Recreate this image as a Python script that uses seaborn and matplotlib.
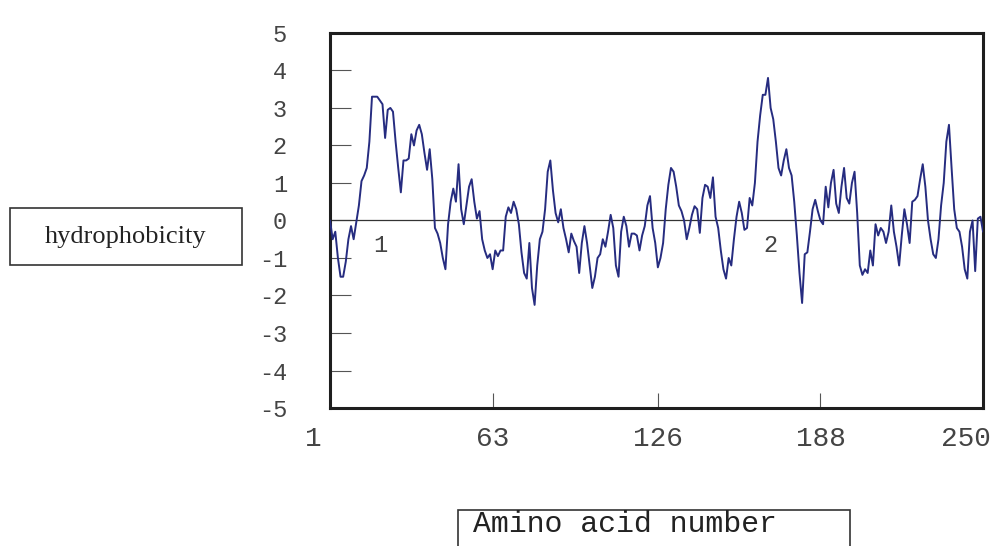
"""
Hydrophobicity profile (Kyte-Doolittle style) re-drawn with seaborn.
"""
import numpy as np
import pandas as pd
import matplotlib
matplotlib.use("Agg")
import matplotlib.pyplot as plt
import matplotlib.transforms as mtransforms
from matplotlib.patches import Rectangle
import seaborn as sns

# ── Data ──────────────────────────────────────────────────
RESIDUES = list(range(1, 251))
HYDRO = [
    0.0, -0.5, -0.3, -1.0, -1.5, -1.5, -1.1, -0.5, -0.15, -0.5,        # 1-10
    -0.05, 0.4, 1.05, 1.2, 1.4, 2.1, 3.3, 3.3, 3.3, 3.2,               # 11-20
    3.1, 2.2, 2.95, 3.0, 2.9, 2.1, 1.4, 0.75, 1.6, 1.6,                # 21-30
    1.65, 2.3, 2.0, 2.4, 2.55, 2.3, 1.8, 1.35, 1.9, 1.1,               # 31-40
    -0.2, -0.35, -0.6, -1.0, -1.3, -0.1, 0.5, 0.85, 0.5, 1.5,          # 41-50
    0.3, -0.1, 0.4, 0.9, 1.1, 0.5, 0.05, 0.25, -0.5, -0.8,             # 51-60
    -1.0, -0.9, -1.3, -0.8, -0.95, -0.8, -0.8, 0.1, 0.35, 0.2,         # 61-70
    0.5, 0.3, -0.1, -0.85, -1.4, -1.55, -0.6, -1.8, -2.25, -1.2,       # 71-80
    -0.5, -0.3, 0.3, 1.3, 1.6, 0.8, 0.2, -0.05, 0.3, -0.2,             # 81-90
    -0.5, -0.85, -0.35, -0.55, -0.7, -1.4, -0.6, -0.15, -0.6, -1.2,    # 91-100
    -1.8, -1.5, -1.0, -0.9, -0.5, -0.7, -0.3, 0.15, -0.2, -1.2,        # 101-110
    -1.5, -0.3, 0.1, -0.15, -0.7, -0.35, -0.35, -0.4, -0.8, -0.4,      # 111-120
    -0.15, 0.4, 0.65, -0.2, -0.6, -1.25, -1.0, -0.6, 0.3, 0.95,        # 121-130
    1.4, 1.3, 0.9, 0.4, 0.25, 0.0, -0.5, -0.2, 0.15, 0.38,             # 131-140
    0.3, -0.33, 0.6, 0.95, 0.9, 0.6, 1.15, 0.1, -0.2, -0.8,            # 141-150
    -1.3, -1.55, -1.0, -1.2, -0.5, 0.1, 0.5, 0.2, -0.25, -0.2,         # 151-160
    0.6, 0.4, 1.0, 2.1, 2.8, 3.35, 3.35, 3.8, 3.0, 2.7,                # 161-170
    2.1, 1.4, 1.2, 1.6, 1.9, 1.4, 1.2, 0.5, -0.4, -1.4,                # 171-180
    -2.2, -0.9, -0.85, -0.3, 0.3, 0.55, 0.25, 0.0, -0.1, 0.9,          # 181-190
    0.35, 1.0, 1.35, 0.45, 0.2, 0.9, 1.4, 0.6, 0.45, 1.0,              # 191-200
    1.3, 0.2, -1.2, -1.45, -1.3, -1.4, -0.8, -1.2, -0.1, -0.4,         # 201-210
    -0.2, -0.3, -0.6, -0.3, 0.4, -0.3, -0.7, -1.2, -0.4, 0.3,          # 211-220
    -0.1, -0.6, 0.5, 0.55, 0.65, 1.1, 1.5, 0.9, 0.0, -0.5,             # 221-230
    -0.9, -1.0, -0.5, 0.4, 1.0, 2.1, 2.55, 1.4, 0.3, -0.2,             # 231-240
    -0.3, -0.7, -1.3, -1.55, -0.3, 0.0, -1.35, 0.05, 0.1, -0.3,        # 241-250
]
X_TICKS = [1, 63, 126, 188, 250]
Y_TICKS = [5, 4, 3, 2, 1, 0, -1, -2, -3, -4, -5]
SEGMENT_LABELS = ["1", "2"]
SEGMENT_RESIDUE = [20, 169]
SEGMENT_LEVEL = -0.66

# ── Style ─────────────────────────────────────────────────
sns.set_style("white")
MONO = ["Liberation Mono", "DejaVu Sans Mono"]
SERIF = ["Liberation Serif", "DejaVu Serif"]
plt.rcParams["font.family"] = MONO
plt.rcParams["axes.unicode_minus"] = False

LINE_COLOR = "#262c80"
FRAME_COLOR = "#1e1e1e"
TEXT_COLOR = "#444444"

df = pd.DataFrame({"residue": RESIDUES, "hydrophobicity": HYDRO})

fig = plt.figure(figsize=(9.95, 5.46), dpi=100)
ax = fig.add_axes([0.3317, 0.2527, 0.6563, 0.687])

ax.axhline(0, color="#333333", lw=0.9, zorder=1)
sns.lineplot(data=df, x="residue", y="hydrophobicity", ax=ax,
             color=LINE_COLOR, lw=1.4, zorder=3)

ax.set_xlim(1, 250)
ax.set_ylim(-5, 5)
ax.set_xticks(X_TICKS)
ax.set_xticklabels([str(t) for t in X_TICKS])
ax.set_yticks(Y_TICKS)
ax.set_yticklabels([str(t) for t in Y_TICKS])
ax.set_xlabel("")
ax.set_ylabel("")

ax.tick_params(axis="y", direction="in", length=15, width=0.8, color="#555555",
               pad=31, labelsize=17, labelcolor=TEXT_COLOR, left=True)
ax.tick_params(axis="x", direction="in", length=11, width=0.8, color="#555555",
               pad=13, labelsize=20, labelcolor=TEXT_COLOR, bottom=True)

for side in ["left", "right", "top", "bottom"]:
    ax.spines[side].set_visible(True)
    ax.spines[side].set_color(FRAME_COLOR)
    ax.spines[side].set_linewidth(2.2)

# end labels sit a bit to the left of their ticks in the original
shift = mtransforms.ScaledTranslation(-0.17, 0, fig.dpi_scale_trans)
xlabels = ax.get_xticklabels()
for lbl in (xlabels[0], xlabels[-1]):
    lbl.set_transform(lbl.get_transform() + shift)

for txt, res in zip(SEGMENT_LABELS, SEGMENT_RESIDUE):
    ax.text(res, SEGMENT_LEVEL, txt, ha="center", va="center",
            fontsize=17, color=TEXT_COLOR, zorder=4)

# boxed axis titles
fig.patches.append(Rectangle((10 / 995, 1 - 265 / 546), 232 / 995, 57 / 546,
                             transform=fig.transFigure, fill=False,
                             edgecolor="#333333", lw=1.2))
fig.text(126 / 995, 1 - 237 / 546, "hydrophobicity", ha="center", va="center",
         fontsize=19, family=SERIF, color="#222222")

fig.patches.append(Rectangle((458 / 995, -0.05), 392 / 995, 0.05 + 36 / 546,
                             transform=fig.transFigure, fill=False,
                             edgecolor="#333333", lw=1.2))
fig.text(473 / 995, 1 - 524 / 546, "Amino acid number", ha="left", va="center",
         fontsize=21.5, color="#222222")

fig.savefig("out.png", dpi=100)
